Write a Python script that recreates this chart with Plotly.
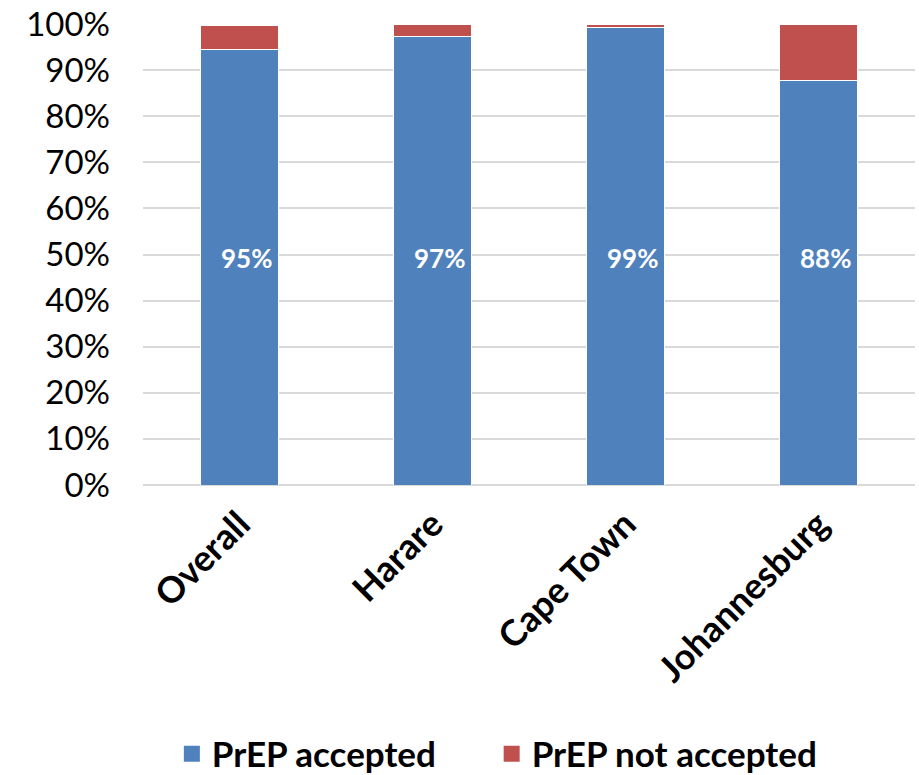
import plotly.graph_objects as go

categories = ["Overall", "Harare", "Cape Town", "Johannesburg"]
accepted = [94.5, 97.2, 99.3, 87.7]
not_accepted = [5.1, 2.8, 0.7, 12.3]
accepted_labels = ["95%", "97%", "99%", "88%"]
series_names = ["PrEP accepted", "PrEP not accepted"]
y_ticks = [0, 10, 20, 30, 40, 50, 60, 70, 80, 90, 100]
y_tick_text = [f"{v}%" for v in y_ticks]

BLUE = "#4f81bd"
RED = "#c0504d"
LABEL_LEVEL = 49.3  # data labels sit at roughly mid-chart in the original

fig = go.Figure()
fig.add_trace(go.Bar(
    x=categories, y=accepted, name=series_names[0],
    marker=dict(color=BLUE, line=dict(color="white", width=1)),
    showlegend=False,
))
fig.add_trace(go.Bar(
    x=categories, y=not_accepted, name=series_names[1],
    marker=dict(color=RED, line=dict(color="white", width=1)),
    showlegend=False,
))
# legend entries (two legends so spacing matches the original)
for nm, col, lg in zip(series_names, [BLUE, RED], ["legend", "legend2"]):
    fig.add_trace(go.Scatter(
        x=[None], y=[None], mode="markers", name=nm, legend=lg,
        marker=dict(symbol="square", size=20, color=col),
        showlegend=True,
    ))

for cat, lab in zip(categories, accepted_labels):
    fig.add_annotation(
        x=cat, y=LABEL_LEVEL, text=lab, showarrow=False, xshift=7,
        font=dict(family="Lato", size=26, color="white", weight="bold"),
    )

legend_common = dict(
    orientation="h", xref="container", yref="container",
    xanchor="left", y=0.027, yanchor="middle",
    font=dict(family="Lato", size=35, weight="bold"),
    bgcolor="rgba(0,0,0,0)",
)

fig.update_layout(
    width=919, height=775,
    barmode="stack", bargap=0.6,
    plot_bgcolor="white", paper_bgcolor="white",
    margin=dict(l=143, r=4, t=24, b=290, autoexpand=False),
    font=dict(family="Lato", color="black"),
    legend=dict(x=0.187, **legend_common),
    legend2=dict(x=0.535, **legend_common),
    xaxis=dict(
        tickangle=-45, automargin=False,
        tickfont=dict(family="Lato", size=36, weight="bold"),
        showgrid=False, showline=False, ticks="", ticklabelstandoff=10,
    ),
    yaxis=dict(
        range=[0, 100], tickvals=y_ticks, ticktext=y_tick_text,
        automargin=False,
        tickfont=dict(family="Lato", size=33),
        showgrid=True, gridcolor="#d9d9d9", gridwidth=2,
        zeroline=True, zerolinecolor="#d9d9d9", zerolinewidth=2,
        showline=False, ticks="", ticklabelstandoff=32,
    ),
)

fig.write_html(
    "out.html",
    config={"displayModeBar": False},
    post_script="document.body.style.margin='0';",
)
